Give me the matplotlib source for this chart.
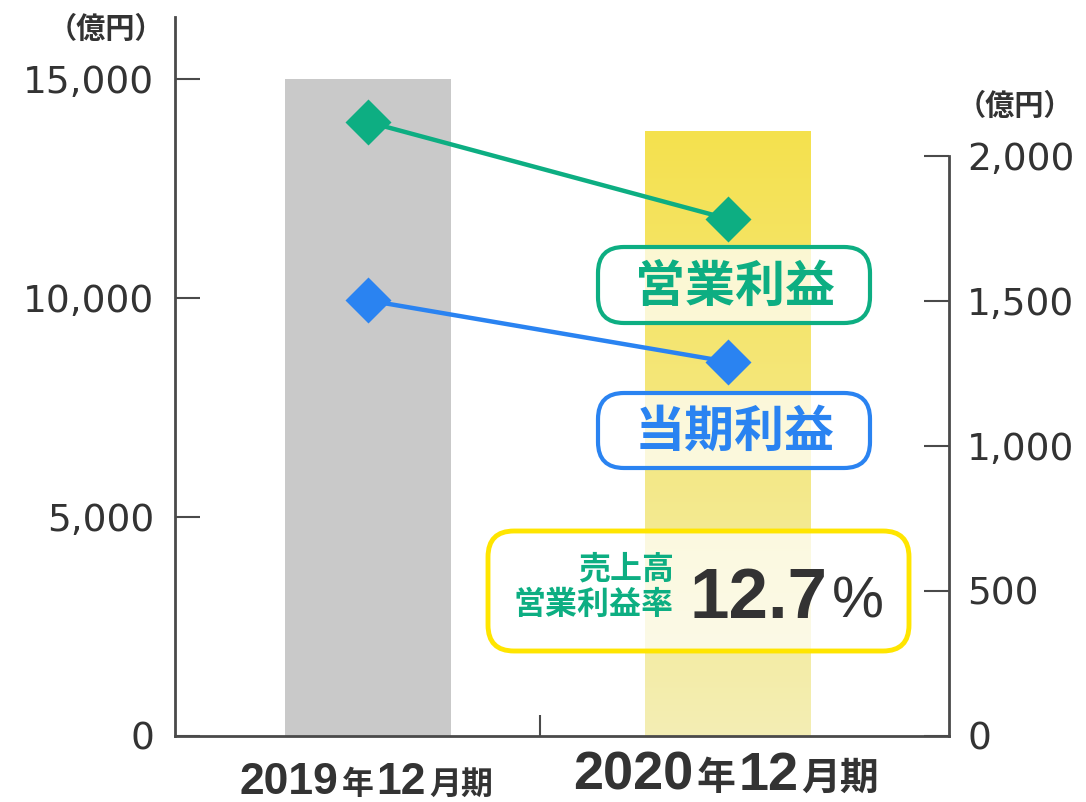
import re

import matplotlib
matplotlib.use("Agg")
import matplotlib.pyplot as plt
import numpy as np
from matplotlib.colors import LinearSegmentedColormap
from matplotlib.patches import FancyBboxPatch
from matplotlib.ticker import FuncFormatter

# values (億円)
periods = ["2019年12月期", "2020年12月期"]
sales = [15000, 13820]        # 売上高, left axis (bars)
op_profit = [2117, 1783]      # 営業利益, right axis
net_profit = [1502, 1290]     # 当期利益, right axis
op_margin = "12.7"
left_ticks = [0, 5000, 10000, 15000]
right_ticks = [0, 500, 1000, 1500, 2000]

W, H, DPI = 1086, 802, 100
GREEN = "#0DAE82"
BLUE = "#2A83F1"
YELLOW = "#FFE500"
GREY_BAR = "#C9C9C9"
INK = "#333333"
AXIS = "#4A4A4A"
CJK = ["Noto Sans CJK JP", "DejaVu Sans"]
BOLD_NUM = ["Liberation Sans", "Noto Sans CJK JP"]


def px(x, y):
    # reference pixel position -> inches for fig.dpi_scale_trans
    return x / DPI, (H - y) / DPI


fig = plt.figure(figsize=(W / DPI, H / DPI), dpi=DPI)
ax = fig.add_axes([175 / W, (H - 736) / H, (949 - 175) / W, (736 - 17) / H])
ax2 = ax.twinx()

x = np.arange(len(periods))
bars = ax.bar(x, sales, width=0.46, color=[GREY_BAR, "none"], linewidth=0, zorder=2)

# current year bar gets a soft vertical yellow gradient
b = bars[1]
grad = np.linspace(0, 1, 256).reshape(-1, 1)
cmap = LinearSegmentedColormap.from_list("yel", ["#F3EEB4", "#F5E14E"])
im = ax.imshow(grad, extent=[b.get_x(), b.get_x() + b.get_width(), 0, b.get_height()],
               origin="lower", aspect="auto", cmap=cmap, zorder=2)
im.set_clip_path(b)

ax.set_xlim(-0.536, 1.614)
ax.set_ylim(0, 16420)
ax2.set_ylim(0, 2479)

# profit lines on the right axis
for vals, col in [(op_profit, GREEN), (net_profit, BLUE)]:
    ax2.plot(x, vals, color=col, lw=3.2, marker="D", ms=23, mec="none", zorder=3)

# spines
for side in ["top", "right"]:
    ax.spines[side].set_visible(False)
for side in ["top", "left", "bottom"]:
    ax2.spines[side].set_visible(False)
for s in [ax.spines["left"], ax.spines["bottom"], ax2.spines["right"]]:
    s.set_color(AXIS)
    s.set_linewidth(2)
ax2.spines["right"].set_bounds(0, 2000)

fmt = FuncFormatter(lambda v, p: f"{int(v):,}")
ax.set_yticks(left_ticks)
ax.yaxis.set_major_formatter(fmt)
ax.tick_params(axis="y", direction="in", length=18, width=1.5, color=AXIS,
               pad=15, labelsize=27, labelcolor=INK)
ax2.set_yticks(right_ticks)
ax2.yaxis.set_major_formatter(fmt)
ax2.tick_params(axis="y", direction="in", length=18, width=1.5, color=AXIS,
                pad=13, labelsize=27, labelcolor=INK)

# only a small divider tick between the two periods
ax.set_xticks([0.478])
ax.set_xticklabels([""])
ax.tick_params(axis="x", direction="in", length=15, width=1.5, color=AXIS)

# unit labels
fig.text(*px(106, 29), "（億円）", transform=fig.dpi_scale_trans, ha="center", va="center",
         fontsize=21, fontweight="bold", family=CJK, color=INK)
fig.text(*px(1015, 106), "（億円）", transform=fig.dpi_scale_trans, ha="center", va="center",
         fontsize=21, fontweight="bold", family=CJK, color=INK)


def rounded_box(x0, y0, x1, y1, ec, lw):
    llx, lly = px(x0, y1)
    p = FancyBboxPatch((llx, lly), (x1 - x0) / DPI, (y1 - y0) / DPI,
                       boxstyle="round,pad=0,rounding_size=0.26",
                       transform=fig.dpi_scale_trans, fc=(1, 1, 1, 0.72), ec=ec, lw=lw)
    fig.add_artist(p)


# series labels
rounded_box(598, 247, 870, 323, GREEN, 3)
fig.text(*px(735, 287), "営業利益", transform=fig.dpi_scale_trans, ha="center", va="center",
         fontsize=36, fontweight="bold", family=CJK, color=GREEN)
rounded_box(598, 393, 870, 468, BLUE, 3)
fig.text(*px(735, 432), "当期利益", transform=fig.dpi_scale_trans, ha="center", va="center",
         fontsize=36, fontweight="bold", family=CJK, color=BLUE)

# operating margin callout
rounded_box(488, 531, 909, 651, YELLOW, 3.5)
fig.text(*px(674, 570), "売上高", transform=fig.dpi_scale_trans, ha="right", va="center",
         fontsize=23, fontweight="bold", family=CJK, color=GREEN)
fig.text(*px(674, 605), "営業利益率", transform=fig.dpi_scale_trans, ha="right", va="center",
         fontsize=23, fontweight="bold", family=CJK, color=GREEN)
fig.text(*px(690, 618), op_margin, transform=fig.dpi_scale_trans, ha="left", va="baseline",
         fontsize=51, fontweight="bold", family=BOLD_NUM, color=INK)
fig.text(*px(832, 618), "%", transform=fig.dpi_scale_trans, ha="left", va="baseline",
         fontsize=42, family=BOLD_NUM, color=INK)


def period_label(xc, text, big, small, base):
    # digits large, 年/月期 smaller, centred under the bar
    pieces = []
    for part in re.findall(r"\d+|\D+", text):
        if part.isdigit():
            t = fig.text(0, 0, part, fontsize=big, fontweight="bold", family=BOLD_NUM,
                         color=INK, ha="left", va="baseline")
        else:
            t = fig.text(0, 0, part, fontsize=small, fontweight="bold", family=CJK,
                         color=INK, ha="left", va="baseline")
        pieces.append(t)
    fig.canvas.draw()
    r = fig.canvas.get_renderer()
    widths = [t.get_window_extent(r).width + 3 for t in pieces]
    cur = ax.transData.transform((xc, 0))[0] - sum(widths) / 2
    for t, w in zip(pieces, widths):
        t.set_position((cur / W, base / H))
        cur += w


period_label(x[0], periods[0], 32, 23, 8)
period_label(x[1], periods[1], 39, 28, 12)

fig.savefig("out.png", dpi=DPI)
